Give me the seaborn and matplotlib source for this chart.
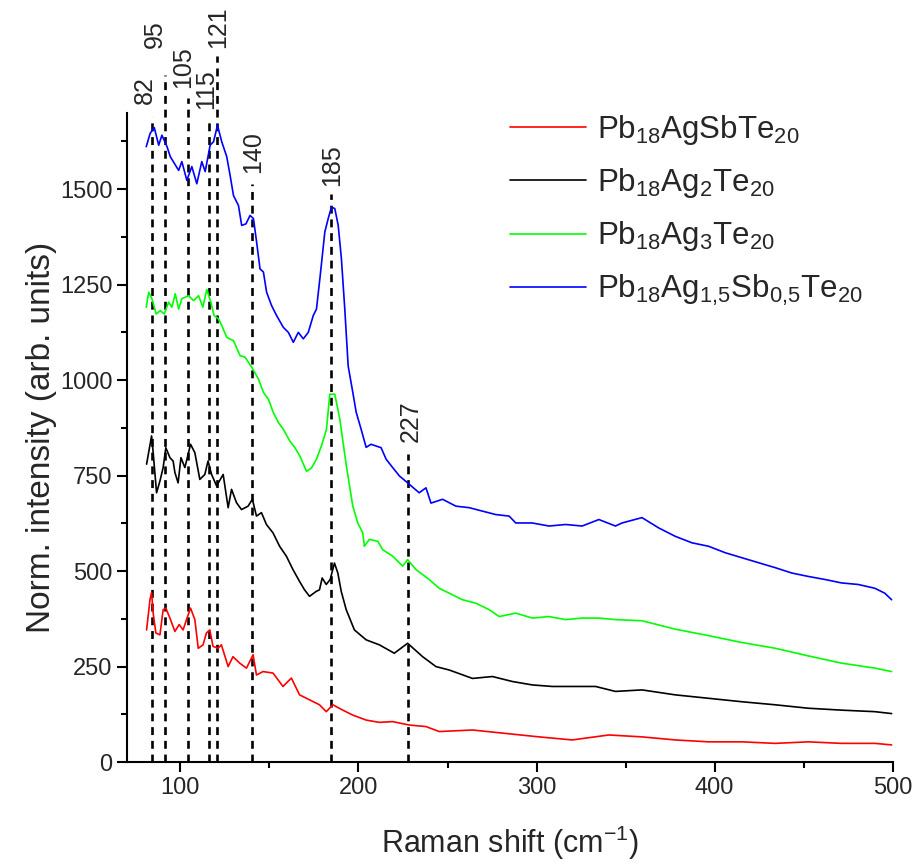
import matplotlib
matplotlib.use('Agg')
import matplotlib.pyplot as plt
from matplotlib.ticker import MultipleLocator
import seaborn as sns

# Raman spectra
red_x = [81, 82.9, 83.8, 84.7, 86.2, 88.5, 90.3, 91.8, 94.1, 96.9, 99.3, 101.5, 103.4, 105.7, 108.1, 110,
         112.7, 114.6, 116.5, 118.3, 121.1, 123, 126.8, 129.5, 133.3, 137.1, 140.8, 142.7, 146.4, 152,
         157.6, 162.3, 166.9, 172.5, 178.1, 181.9, 185.6, 191.2, 196.8, 204.3, 211.7, 219.2, 228.5, 237.9,
         245.3, 264, 282.7, 301.4, 320, 340.6, 359.2, 377.9, 396.6, 415.3, 434, 452.6, 471.3, 490, 499.4]
red_y = [346, 425, 444, 390, 338, 333, 399, 403, 377, 342, 360, 346, 373, 403, 373, 298,
         307, 338, 346, 303, 298, 307, 250, 276, 259, 246, 281, 228, 237, 233,
         198, 220, 176, 163, 150, 132, 150, 136, 123, 110, 104, 106, 97, 93,
         80, 84, 75, 66, 58, 71, 66, 58, 53, 53, 49, 53, 49, 49, 45]

black_x = [81, 83.8, 84.7, 86.6, 88.5, 90.3, 91.8, 94.1, 95.9, 96.9, 98.7, 100.3, 102.5, 105.7, 108.1,
           110.9, 113.7, 115.5, 117.5, 120.3, 124, 126.8, 128.7, 131.5, 134.3, 138, 140.4, 142.7, 145.5,
           148.3, 152, 155.7, 159.5, 163.2, 166.9, 169.7, 172.5, 176.3, 178.1, 179.6, 181.9, 184.1, 186.5,
           188.4, 190.3, 193.1, 197.7, 204.3, 211.7, 220.1, 227.6, 236, 243.5, 251, 264, 275.2, 286.4,
           297.6, 308.8, 320, 333.1, 344.3, 359.2, 377.9, 396.6, 415.3, 434, 452.6, 471.3, 490, 499.4]
black_y = [780, 854, 810, 705, 736, 771, 823, 797, 788, 758, 731, 797, 771, 832, 810,
           740, 753, 788, 753, 723, 753, 666, 714, 679, 661, 670, 688, 644, 653,
           622, 600, 565, 539, 504, 473, 451, 434, 447, 451, 482, 465, 478, 521,
           495, 447, 399, 346, 320, 307, 285, 311, 276, 250, 241, 219, 224, 211,
           202, 198, 198, 198, 185, 189, 176, 167, 158, 150, 141, 136, 132, 127]

green_x = [80.8, 82.2, 84, 86.4, 88.7, 90.9, 93.4, 95.2, 97.1, 99, 100.8, 104.6, 107.4, 110.2, 112.6,
           114.8, 117.1, 118.9, 121.4, 123.2, 126, 129.8, 133.5, 136.3, 140, 143.8, 146.6, 149.4, 152.2,
           155, 157.8, 161.5, 164.3, 167.1, 170.8, 173.6, 176.4, 179.2, 182, 183.9, 186.7, 189.5, 193.2,
           196.8, 199.6, 202.4, 203.3, 206.1, 210.8, 213.6, 219.2, 224.8, 227.6, 232.3, 239.7, 245.3, 251,
           258.4, 265.9, 273.4, 279, 288.3, 297.6, 307, 316.3, 325.6, 335, 344.3, 359.2, 377.9, 396.6,
           415.3, 434, 452.6, 471.3, 490, 499.4]
green_y = [1191, 1230, 1213, 1173, 1182, 1173, 1204, 1191, 1226, 1186, 1213, 1221, 1208, 1221, 1191,
           1237, 1204, 1169, 1160, 1143, 1112, 1103, 1064, 1060, 1034, 1003, 968, 950, 915,
           889, 871, 840, 823, 801, 761, 770, 793, 828, 871, 963, 963, 898, 775,
           670, 626, 600, 565, 583, 578, 556, 539, 513, 530, 504, 478, 455, 442,
           425, 416, 399, 381, 390, 377, 381, 373, 377, 377, 373, 370, 348, 331,
           313, 298, 278, 259, 246, 237]

blue_x = [80.8, 83, 85.3, 87.8, 89.6, 92.4, 94.3, 99, 100.8, 103.6, 106.4, 109.2, 112, 113.9, 116.7,
          118.6, 120.8, 123.2, 126, 127.9, 129.8, 132.6, 134.4, 136.8, 139.1, 141, 142.8, 144.7, 146.6,
          148.4, 151.2, 154, 157.8, 160.6, 163.4, 166.2, 169, 171.8, 174.6, 176.4, 178.3, 181.1, 183,
          184.8, 186.7, 188.6, 190.4, 192.3, 194.2, 196.8, 198.7, 201.5, 204.3, 207, 212.7, 215.5, 219.2,
          223, 227.6, 234.1, 237.9, 240.7, 247.2, 254.7, 262.2, 269.6, 277.1, 284.6, 288.3, 297.6, 307,
          316.3, 325.6, 335, 344.3, 348, 359.2, 368.6, 377.9, 387.3, 396.6, 406, 415.3, 424.6, 434,
          443.3, 452.6, 462, 471.3, 480.6, 490, 495.6, 499.4]
blue_y = [1611, 1646, 1661, 1615, 1641, 1612, 1585, 1549, 1572, 1523, 1559, 1514, 1572, 1546, 1615,
          1624, 1667, 1624, 1585, 1536, 1483, 1457, 1405, 1409, 1431, 1423, 1361, 1291, 1283,
          1230, 1195, 1169, 1138, 1125, 1099, 1125, 1108, 1125, 1169, 1186, 1265, 1388, 1423,
          1453, 1449, 1405, 1318, 1186, 1037, 968, 916, 871, 824, 832, 823, 793, 771,
          749, 731, 705, 718, 678, 688, 670, 666, 657, 648, 644, 626, 626, 618,
          622, 618, 635, 618, 626, 640, 613, 591, 574, 565, 548, 535, 522, 509,
          495, 486, 478, 469, 465, 455, 442, 425]

series_labels = [r'$\mathregular{Pb_{18}AgSbTe_{20}}$',
                 r'$\mathregular{Pb_{18}Ag_{2}Te_{20}}$',
                 r'$\mathregular{Pb_{18}Ag_{3}Te_{20}}$',
                 r'$\mathregular{Pb_{18}Ag_{1{,}5}Sb_{0{,}5}Te_{20}}$']
series_colors = ['#ff0000', '#000000', '#00ff00', '#0000ff']

# marked peaks: line position, line top, label text
peak_pos = [83.8, 91.3, 104.4, 116, 120.8, 140.2, 184.8, 228]
peak_top = [1690, 1800, 1738, 1685, 1848, 1514, 1488, 806]
peak_text = ['82', '95', '105', '115', '121', '140', '185', '227']
# label anchor (x, bottom y) for each rotated label
label_x = [80.1, 85.6, 101.4, 114.3, 121, 140.6, 185.4, 229.3]
label_y = [1722, 1869, 1764, 1711, 1869, 1541, 1507, 837]

sns.set_theme(style='ticks')
plt.rcParams['font.family'] = ['Liberation Sans', 'DejaVu Sans']
plt.rcParams['mathtext.fontset'] = 'custom'
plt.rcParams['mathtext.rm'] = 'Liberation Sans'
plt.rcParams['mathtext.it'] = 'Liberation Sans:italic'

fig = plt.figure(figsize=(9.17, 8.67), dpi=100)
ax = fig.add_axes([0.1385, 0.121, 0.835, 0.749])

data = [(red_x, red_y), (black_x, black_y), (green_x, green_y), (blue_x, blue_y)]
for (xs, ys), lab, col in zip(data, series_labels, series_colors):
    assert len(xs) == len(ys)
    sns.lineplot(x=xs, y=ys, color=col, linewidth=1.2, label=lab, ax=ax,
                 estimator=None, sort=False)

ax.vlines(peak_pos, 0, peak_top, colors='black', linestyles=(0, (3, 2.2)),
          linewidth=1.9, clip_on=False, zorder=1)
for xp, yp, t in zip(label_x, label_y, peak_text):
    ax.text(xp, yp, t, rotation=90, ha='center', va='bottom', fontsize=18)

ax.set_xlim(70, 500)
ax.set_ylim(0, 1700)
ax.xaxis.set_major_locator(MultipleLocator(100))
ax.xaxis.set_minor_locator(MultipleLocator(50))
ax.yaxis.set_major_locator(MultipleLocator(250))
ax.yaxis.set_minor_locator(MultipleLocator(125))
ax.tick_params(which='major', direction='out', length=7, width=1.5, labelsize=17, color='black')
ax.tick_params(which='minor', direction='out', length=4, width=1.5, color='black')
sns.despine(ax=ax)
for s in ['left', 'bottom']:
    ax.spines[s].set_linewidth(1.5)
    ax.spines[s].set_color('black')

ax.set_xlabel(r'Raman shift (cm$^{\mathregular{-1}}$)', fontsize=22, labelpad=18)
ax.set_ylabel('Norm. intensity (arb. units)', fontsize=24, labelpad=2)

ax.legend(loc='upper left', bbox_to_anchor=(0.5, 1.0), frameon=False, fontsize=22.5,
          handlelength=2.45, handletextpad=0.35, labelspacing=0.62, borderpad=0,
          borderaxespad=0)

plt.savefig('out.png', dpi=100)
